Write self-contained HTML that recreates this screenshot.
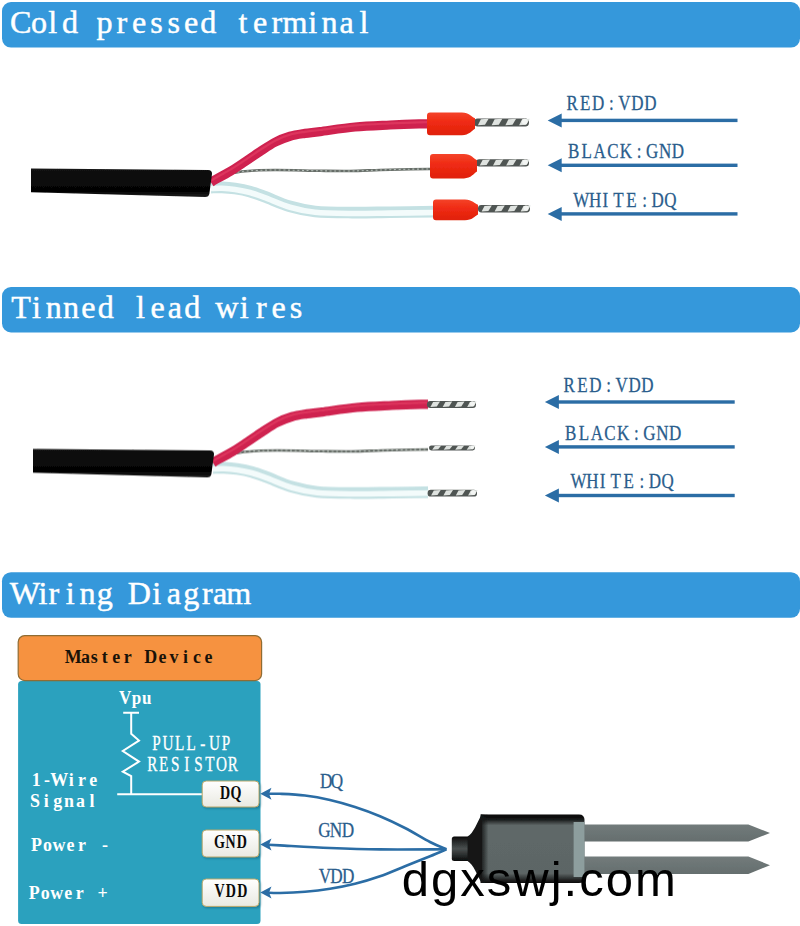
<!DOCTYPE html>
<html lang="en"><head><meta charset="utf-8"><title>Wiring</title>
<style>
html,body{margin:0;padding:0;background:#fff;}
body{width:800px;height:926px;overflow:hidden;}
svg{display:block;}
</style></head><body>
<svg width="800" height="926" viewBox="0 0 800 926">
<defs>
<filter id="soft" x="-5%" y="-20%" width="110%" height="140%"><feGaussianBlur stdDeviation="0.6"/></filter>
<filter id="soft2" x="-5%" y="-20%" width="110%" height="140%"><feGaussianBlur stdDeviation="0.35"/></filter>
<filter id="sh" x="-10%" y="-20%" width="125%" height="150%"><feGaussianBlur stdDeviation="1.2"/></filter>
<linearGradient id="cab" x1="0" y1="0" x2="0" y2="1"><stop offset="0" stop-color="#141414"/><stop offset="0.3" stop-color="#0a0a0a"/><stop offset="0.8" stop-color="#050505"/><stop offset="1" stop-color="#1c1c1c"/></linearGradient>
<linearGradient id="redw" x1="0" y1="0" x2="0" y2="1"><stop offset="0" stop-color="#e23a5a"/><stop offset="0.5" stop-color="#d3254a"/><stop offset="1" stop-color="#b81c40"/></linearGradient>
<linearGradient id="term" x1="0" y1="0" x2="0" y2="1"><stop offset="0" stop-color="#f4442a"/><stop offset="0.4" stop-color="#f02c14"/><stop offset="1" stop-color="#e0200c"/></linearGradient>
<linearGradient id="stub" x1="0" y1="0" x2="0" y2="1"><stop offset="0" stop-color="#0a0a0a"/><stop offset="0.12" stop-color="#1c1e1e"/><stop offset="0.5" stop-color="#4a5050"/><stop offset="0.88" stop-color="#1a1c1c"/><stop offset="1" stop-color="#080808"/></linearGradient>
<linearGradient id="body" x1="0" y1="0" x2="0" y2="1"><stop offset="0" stop-color="#050505"/><stop offset="0.07" stop-color="#141616"/><stop offset="0.16" stop-color="#5f6868"/><stop offset="0.86" stop-color="#5c6565"/><stop offset="0.94" stop-color="#2a2d2d"/><stop offset="1" stop-color="#0a0a0a"/></linearGradient>
<linearGradient id="tap" x1="0" y1="0" x2="1" y2="0"><stop offset="0" stop-color="#131515"/><stop offset="1" stop-color="#131515" stop-opacity="0"/></linearGradient>
<linearGradient id="btn" x1="0" y1="0" x2="0" y2="1"><stop offset="0" stop-color="#ffffff"/><stop offset="1" stop-color="#e9e9e1"/></linearGradient>
<linearGradient id="prong" x1="0" y1="0" x2="0" y2="1"><stop offset="0" stop-color="#727b7b"/><stop offset="1" stop-color="#656e6e"/></linearGradient>
</defs>
<rect width="800" height="926" fill="#ffffff"/>
<rect x="2" y="2.0" width="798" height="45.6" rx="9" ry="9" fill="#3598db"/>
<text transform="translate(9.40 33.40) scale(1.020 1)" x="11.06 29.12 42.40 59.36 76.32 93.28 110.25 127.21 144.17 161.13 178.09 195.05 212.01 228.97 245.93 262.19 280.10 297.27 313.77 330.74 347.70" y="0" text-anchor="middle" font-family='"Liberation Serif", serif' font-size="31.50" font-weight="normal" fill="#ffffff" stroke="#ffffff" stroke-width="0.45">Cold pressed terminal</text>
<rect x="2" y="287.0" width="798" height="45.4" rx="9" ry="9" fill="#3598db"/>
<text transform="translate(10.60 318.40) scale(1.020 1)" x="10.25 25.44 42.40 59.36 76.32 93.28 110.25 127.21 144.17 161.13 178.09 195.05 212.01 228.97 245.93 262.89 279.85" y="0" text-anchor="middle" font-family='"Liberation Serif", serif' font-size="31.50" font-weight="normal" fill="#ffffff" stroke="#ffffff" stroke-width="0.45">Tinned lead wires</text>
<rect x="2" y="572.2" width="798" height="45.6" rx="9" ry="9" fill="#3598db"/>
<text transform="translate(9.60 603.80) scale(1.020 1)" x="15.08 32.81 43.48 59.36 76.32 93.28 110.25 127.21 144.17 161.13 178.09 193.95 206.50 224.78" y="0" text-anchor="middle" font-family='"Liberation Serif", serif' font-size="31.50" font-weight="normal" fill="#ffffff" stroke="#ffffff" stroke-width="0.45">Wiring Diagram</text>
<g transform="translate(0.0 0.0)">
<g filter="url(#soft)">
<path d="M211.00,187.60 C212.83,187.57 218.00,187.23 222.00,187.40 C226.00,187.57 230.33,187.90 235.00,188.60 C239.67,189.30 245.00,190.23 250.00,191.60 C255.00,192.97 258.33,194.33 265.00,196.80 C271.67,199.27 281.67,203.97 290.00,206.40 C298.33,208.83 304.67,210.37 315.00,211.40 C325.33,212.43 339.50,212.47 352.00,212.60 C364.50,212.73 376.00,212.37 390.00,212.20 C404.00,212.03 428.33,211.70 436.00,211.60" fill="none" stroke="#c4e1e3" stroke-width="11.6"/>
<path transform="translate(0 0.9)" d="M211.00,187.60 C212.83,187.57 218.00,187.23 222.00,187.40 C226.00,187.57 230.33,187.90 235.00,188.60 C239.67,189.30 245.00,190.23 250.00,191.60 C255.00,192.97 258.33,194.33 265.00,196.80 C271.67,199.27 281.67,203.97 290.00,206.40 C298.33,208.83 304.67,210.37 315.00,211.40 C325.33,212.43 339.50,212.47 352.00,212.60 C364.50,212.73 376.00,212.37 390.00,212.20 C404.00,212.03 428.33,211.70 436.00,211.60" fill="none" stroke="#f3fbfb" stroke-width="5.6"/>
<path d="M224.00,174.50 C227.50,173.95 236.50,171.95 245.00,171.20 C253.50,170.45 262.50,170.07 275.00,170.00 C287.50,169.93 307.50,170.63 320.00,170.80 C332.50,170.97 340.00,171.13 350.00,171.00 C360.00,170.87 370.00,170.30 380.00,170.00 C390.00,169.70 401.17,169.37 410.00,169.20 C418.83,169.03 429.17,169.03 433.00,169.00" fill="none" stroke="#666d67" stroke-width="2.6"/>
<path d="M224.00,174.50 C227.50,173.95 236.50,171.95 245.00,171.20 C253.50,170.45 262.50,170.07 275.00,170.00 C287.50,169.93 307.50,170.63 320.00,170.80 C332.50,170.97 340.00,171.13 350.00,171.00 C360.00,170.87 370.00,170.30 380.00,170.00 C390.00,169.70 401.17,169.37 410.00,169.20 C418.83,169.03 429.17,169.03 433.00,169.00" fill="none" stroke="#b4beb8" stroke-width="1.1" stroke-dasharray="2 2.6"/>
<path d="M211.00,182.40 C211.67,181.97 211.83,181.62 215.00,179.80 C218.17,177.98 225.00,174.51 230.00,171.50 C235.00,168.49 240.00,165.07 245.00,161.75 C250.00,158.43 255.00,154.85 260.00,151.60 C265.00,148.35 270.00,144.81 275.00,142.25 C280.00,139.69 285.00,137.72 290.00,136.25 C295.00,134.78 300.00,134.18 305.00,133.40 C310.00,132.62 311.67,132.67 320.00,131.60 C328.33,130.53 343.33,128.10 355.00,127.00 C366.67,125.90 379.33,125.52 390.00,125.00 C400.67,124.48 412.00,124.10 419.00,123.90 C426.00,123.70 429.83,123.82 432.00,123.80" fill="none" stroke="#cf2350" stroke-width="9.2"/>
<path transform="translate(0 -1.6)" d="M211.00,182.40 C211.67,181.97 211.83,181.62 215.00,179.80 C218.17,177.98 225.00,174.51 230.00,171.50 C235.00,168.49 240.00,165.07 245.00,161.75 C250.00,158.43 255.00,154.85 260.00,151.60 C265.00,148.35 270.00,144.81 275.00,142.25 C280.00,139.69 285.00,137.72 290.00,136.25 C295.00,134.78 300.00,134.18 305.00,133.40 C310.00,132.62 311.67,132.67 320.00,131.60 C328.33,130.53 343.33,128.10 355.00,127.00 C366.67,125.90 379.33,125.52 390.00,125.00 C400.67,124.48 412.00,124.10 419.00,123.90 C426.00,123.70 429.83,123.82 432.00,123.80" fill="none" stroke="#e23c62" stroke-width="2.2" opacity="0.7"/>
<path d="M31,168.6 L208,169.9 Q212.4,170.2 212,174 L209.4,193.4 Q208.8,197 205,196.9 L31,192.3 Z" fill="url(#cab)"/>
</g>
<g filter="url(#soft)">
<rect x="474.0" y="118.4" width="55.0" height="8.1" rx="3.7" fill="#505552"/>
<path d="M477.9,125.3 L480.9,119.3 L488.6,118.8 L485.0,124.7 Z" fill="#dfe3e0"/>
<path d="M491.6,125.3 L494.6,119.3 L502.3,118.8 L498.8,124.7 Z" fill="#dfe3e0"/>
<path d="M505.4,125.3 L508.4,119.3 L516.1,118.8 L512.5,124.7 Z" fill="#dfe3e0"/>
<path d="M519.1,125.3 L522.1,119.3 L529.8,118.8 L526.2,124.7 Z" fill="#dfe3e0"/>
<circle cx="524.7" cy="121.6" r="2.9" fill="#f3f5f3"/>
</g>
<path filter="url(#soft2)" d="M427.0,115.4 Q427.0,112.4 430.0,112.4 L462.0,112.4 C469.0,112.4 472.0,117.0 475.0,118.3 L475.0,128.8 C472.0,130.6 469.0,135.2 462.0,135.2 L430.0,135.2 Q427.0,135.2 427.0,132.2 Z" fill="url(#term)"/>
<g filter="url(#soft)">
<rect x="476.0" y="159.3" width="53.0" height="7.2" rx="3.3" fill="#505552"/>
<path d="M479.7,165.5 L482.6,160.1 L490.0,159.6 L486.6,165.0 Z" fill="#dfe3e0"/>
<path d="M493.0,165.5 L495.9,160.1 L503.3,159.6 L499.8,165.0 Z" fill="#dfe3e0"/>
<path d="M506.2,165.5 L509.1,160.1 L516.5,159.6 L513.1,165.0 Z" fill="#dfe3e0"/>
<path d="M519.5,165.5 L522.4,160.1 L529.8,159.6 L526.4,165.0 Z" fill="#dfe3e0"/>
<circle cx="525.1" cy="162.2" r="2.6" fill="#f3f5f3"/>
</g>
<path filter="url(#soft2)" d="M430.0,157.0 Q430.0,154.0 433.0,154.0 L464.0,154.0 C471.0,154.0 474.0,158.9 477.0,160.3 L477.0,171.6 C474.0,173.5 471.0,178.4 464.0,178.4 L433.0,178.4 Q430.0,178.4 430.0,175.4 Z" fill="url(#term)"/>
<g filter="url(#soft)">
<rect x="478.0" y="205.1" width="52.0" height="7.4" rx="3.4" fill="#505552"/>
<path d="M481.6,211.4 L484.5,206.0 L491.8,205.5 L488.4,210.9 Z" fill="#dfe3e0"/>
<path d="M494.6,211.4 L497.5,206.0 L504.8,205.5 L501.4,210.9 Z" fill="#dfe3e0"/>
<path d="M507.6,211.4 L510.5,206.0 L517.8,205.5 L514.4,210.9 Z" fill="#dfe3e0"/>
<path d="M520.6,211.4 L523.5,206.0 L530.8,205.5 L527.4,210.9 Z" fill="#dfe3e0"/>
<circle cx="526.0" cy="208.1" r="2.6" fill="#f3f5f3"/>
</g>
<path filter="url(#soft2)" d="M433.0,202.4 Q433.0,199.4 436.0,199.4 L465.0,199.4 C472.0,199.4 475.0,203.6 478.0,204.8 L478.0,214.4 C475.0,216.0 472.0,220.2 465.0,220.2 L436.0,220.2 Q433.0,220.2 433.0,217.2 Z" fill="url(#term)"/>
</g>
<clipPath id="c2"><rect x="0" y="0" width="425.4" height="300"/></clipPath>
<g clip-path="url(#c2)" transform="translate(2 280.4)"><g transform="translate(0.0 0.0)">
<g filter="url(#soft)">
<path d="M211.00,187.60 C212.83,187.57 218.00,187.23 222.00,187.40 C226.00,187.57 230.33,187.90 235.00,188.60 C239.67,189.30 245.00,190.23 250.00,191.60 C255.00,192.97 258.33,194.33 265.00,196.80 C271.67,199.27 281.67,203.97 290.00,206.40 C298.33,208.83 304.67,210.37 315.00,211.40 C325.33,212.43 339.50,212.47 352.00,212.60 C364.50,212.73 376.00,212.37 390.00,212.20 C404.00,212.03 428.33,211.70 436.00,211.60" fill="none" stroke="#c4e1e3" stroke-width="11.6"/>
<path transform="translate(0 0.9)" d="M211.00,187.60 C212.83,187.57 218.00,187.23 222.00,187.40 C226.00,187.57 230.33,187.90 235.00,188.60 C239.67,189.30 245.00,190.23 250.00,191.60 C255.00,192.97 258.33,194.33 265.00,196.80 C271.67,199.27 281.67,203.97 290.00,206.40 C298.33,208.83 304.67,210.37 315.00,211.40 C325.33,212.43 339.50,212.47 352.00,212.60 C364.50,212.73 376.00,212.37 390.00,212.20 C404.00,212.03 428.33,211.70 436.00,211.60" fill="none" stroke="#f3fbfb" stroke-width="5.6"/>
<path d="M224.00,174.50 C227.50,173.95 236.50,171.95 245.00,171.20 C253.50,170.45 262.50,170.07 275.00,170.00 C287.50,169.93 307.50,170.63 320.00,170.80 C332.50,170.97 340.00,171.13 350.00,171.00 C360.00,170.87 370.00,170.30 380.00,170.00 C390.00,169.70 401.17,169.37 410.00,169.20 C418.83,169.03 429.17,169.03 433.00,169.00" fill="none" stroke="#666d67" stroke-width="2.6"/>
<path d="M224.00,174.50 C227.50,173.95 236.50,171.95 245.00,171.20 C253.50,170.45 262.50,170.07 275.00,170.00 C287.50,169.93 307.50,170.63 320.00,170.80 C332.50,170.97 340.00,171.13 350.00,171.00 C360.00,170.87 370.00,170.30 380.00,170.00 C390.00,169.70 401.17,169.37 410.00,169.20 C418.83,169.03 429.17,169.03 433.00,169.00" fill="none" stroke="#b4beb8" stroke-width="1.1" stroke-dasharray="2 2.6"/>
<path d="M211.00,182.40 C211.67,181.97 211.83,181.62 215.00,179.80 C218.17,177.98 225.00,174.51 230.00,171.50 C235.00,168.49 240.00,165.07 245.00,161.75 C250.00,158.43 255.00,154.85 260.00,151.60 C265.00,148.35 270.00,144.81 275.00,142.25 C280.00,139.69 285.00,137.72 290.00,136.25 C295.00,134.78 300.00,134.18 305.00,133.40 C310.00,132.62 311.67,132.67 320.00,131.60 C328.33,130.53 343.33,128.10 355.00,127.00 C366.67,125.90 379.33,125.52 390.00,125.00 C400.67,124.48 412.00,124.10 419.00,123.90 C426.00,123.70 429.83,123.82 432.00,123.80" fill="none" stroke="#cf2350" stroke-width="9.2"/>
<path transform="translate(0 -1.6)" d="M211.00,182.40 C211.67,181.97 211.83,181.62 215.00,179.80 C218.17,177.98 225.00,174.51 230.00,171.50 C235.00,168.49 240.00,165.07 245.00,161.75 C250.00,158.43 255.00,154.85 260.00,151.60 C265.00,148.35 270.00,144.81 275.00,142.25 C280.00,139.69 285.00,137.72 290.00,136.25 C295.00,134.78 300.00,134.18 305.00,133.40 C310.00,132.62 311.67,132.67 320.00,131.60 C328.33,130.53 343.33,128.10 355.00,127.00 C366.67,125.90 379.33,125.52 390.00,125.00 C400.67,124.48 412.00,124.10 419.00,123.90 C426.00,123.70 429.83,123.82 432.00,123.80" fill="none" stroke="#e23c62" stroke-width="2.2" opacity="0.7"/>
<path d="M31,168.6 L208,169.9 Q212.4,170.2 212,174 L209.4,193.4 Q208.8,197 205,196.9 L31,192.3 Z" fill="url(#cab)"/>
</g>
</g>
</g>
<g transform="translate(2 280.4)"><g filter="url(#soft)">
<rect x="425.0" y="120.7" width="49.0" height="6.9" rx="3.2" fill="#505552"/>
<path d="M428.4,126.6 L431.1,121.5 L438.0,121.0 L434.8,126.1 Z" fill="#dfe3e0"/>
<path d="M440.7,126.6 L443.4,121.5 L450.2,121.0 L447.1,126.1 Z" fill="#dfe3e0"/>
<path d="M452.9,126.6 L455.6,121.5 L462.5,121.0 L459.3,126.1 Z" fill="#dfe3e0"/>
<path d="M465.2,126.6 L467.9,121.5 L474.7,121.0 L471.6,126.1 Z" fill="#dfe3e0"/>
<circle cx="470.3" cy="123.4" r="2.5" fill="#f3f5f3"/>
</g>
<g filter="url(#soft)">
<rect x="427.0" y="165.0" width="46.0" height="5.0" rx="2.3" fill="#505552"/>
<path d="M430.2,169.3 L432.8,165.6 L439.2,165.2 L436.2,168.9 Z" fill="#dfe3e0"/>
<path d="M441.7,169.3 L444.2,165.6 L450.7,165.2 L447.7,168.9 Z" fill="#dfe3e0"/>
<path d="M453.2,169.3 L455.8,165.6 L462.2,165.2 L459.2,168.9 Z" fill="#dfe3e0"/>
<path d="M464.7,169.3 L467.2,165.6 L473.7,165.2 L470.7,168.9 Z" fill="#dfe3e0"/>
<circle cx="470.3" cy="167.0" r="1.8" fill="#f3f5f3"/>
</g>
<g filter="url(#soft)">
<rect x="425.6" y="209.3" width="49.4" height="6.9" rx="3.2" fill="#505552"/>
<path d="M429.1,215.2 L431.8,210.1 L438.7,209.6 L435.5,214.7 Z" fill="#dfe3e0"/>
<path d="M441.4,215.2 L444.1,210.1 L451.0,209.6 L447.8,214.7 Z" fill="#dfe3e0"/>
<path d="M453.8,215.2 L456.5,210.1 L463.4,209.6 L460.2,214.7 Z" fill="#dfe3e0"/>
<path d="M466.1,215.2 L468.8,210.1 L475.7,209.6 L472.5,214.7 Z" fill="#dfe3e0"/>
<circle cx="471.3" cy="212.0" r="2.5" fill="#f3f5f3"/>
</g>
</g>
<path d="M547.7,120.4 L561.7,113.4 L561.7,127.4 Z" fill="#2b6da5"/><rect x="559.7" y="118.70" width="177.8" height="3.4" fill="#2b6da5"/>
<text transform="translate(565.50 110.10) scale(0.780 1)" x="8.40 25.19 41.99 58.78 75.58 92.23 108.71" y="0" text-anchor="middle" font-family='"Liberation Serif", serif' font-size="21.80" font-weight="normal" fill="#2a5d8c" stroke="#2a5d8c" stroke-width="0.3">RED:VDD</text>
<path d="M547.7,165.3 L561.7,158.3 L561.7,172.3 Z" fill="#2b6da5"/><rect x="559.7" y="163.60" width="177.8" height="3.4" fill="#2b6da5"/>
<text transform="translate(567.00 158.20) scale(0.780 1)" x="8.40 25.19 41.99 58.78 75.58 92.37 109.17 125.82 142.30" y="0" text-anchor="middle" font-family='"Liberation Serif", serif' font-size="21.80" font-weight="normal" fill="#2a5d8c" stroke="#2a5d8c" stroke-width="0.3">BLACK:GND</text>
<path d="M547.7,213.9 L561.7,206.9 L561.7,220.9 Z" fill="#2b6da5"/><rect x="559.7" y="212.20" width="177.8" height="3.4" fill="#2b6da5"/>
<text transform="translate(572.60 206.80) scale(0.780 1)" x="11.08 29.05 41.99 58.78 75.58 92.37 109.02 125.50" y="0" text-anchor="middle" font-family='"Liberation Serif", serif' font-size="21.80" font-weight="normal" fill="#2a5d8c" stroke="#2a5d8c" stroke-width="0.3">WHITE:DQ</text>
<path d="M544.9,402.0 L558.9,395.0 L558.9,409.0 Z" fill="#2b6da5"/><rect x="556.9" y="400.30" width="177.8" height="3.4" fill="#2b6da5"/>
<text transform="translate(562.70 391.70) scale(0.780 1)" x="8.40 25.19 41.99 58.78 75.58 92.23 108.71" y="0" text-anchor="middle" font-family='"Liberation Serif", serif' font-size="21.80" font-weight="normal" fill="#2a5d8c" stroke="#2a5d8c" stroke-width="0.3">RED:VDD</text>
<path d="M544.9,446.9 L558.9,439.9 L558.9,453.9 Z" fill="#2b6da5"/><rect x="556.9" y="445.20" width="177.8" height="3.4" fill="#2b6da5"/>
<text transform="translate(564.20 439.80) scale(0.780 1)" x="8.40 25.19 41.99 58.78 75.58 92.37 109.17 125.82 142.30" y="0" text-anchor="middle" font-family='"Liberation Serif", serif' font-size="21.80" font-weight="normal" fill="#2a5d8c" stroke="#2a5d8c" stroke-width="0.3">BLACK:GND</text>
<path d="M544.9,495.5 L558.9,488.5 L558.9,502.5 Z" fill="#2b6da5"/><rect x="556.9" y="493.80" width="177.8" height="3.4" fill="#2b6da5"/>
<text transform="translate(569.80 488.40) scale(0.780 1)" x="11.08 29.05 41.99 58.78 75.58 92.37 109.02 125.50" y="0" text-anchor="middle" font-family='"Liberation Serif", serif' font-size="21.80" font-weight="normal" fill="#2a5d8c" stroke="#2a5d8c" stroke-width="0.3">WHITE:DQ</text>
<rect x="18.1" y="681" width="242.4" height="243" rx="3.5" fill="#2ba1be"/>
<rect x="18.2" y="635.6" width="243.4" height="45" rx="6.5" fill="#f69240" stroke="#8f6c33" stroke-width="1.2"/>
<text transform="translate(64.20 663.20) scale(0.920 1)" x="9.77 23.12 32.62 43.94 56.49 69.05 81.60 94.16 106.71 119.27 131.82 144.38 156.93" y="0" text-anchor="middle" font-family='"Liberation Serif", serif' font-size="19.50" font-weight="bold" fill="#1a1208" >Master Device</text>
<text transform="translate(118.40 704.00) scale(0.920 1)" x="7.44 19.62 30.71" y="0" text-anchor="middle" font-family='"Liberation Serif", serif' font-size="18.50" font-weight="bold" fill="#ffffff" >Vpu</text>
<text transform="translate(150.60 750.20) scale(0.760 1)" x="7.63 22.89 38.16 53.42 68.68 83.95 99.21" y="0" text-anchor="middle" font-family='"Liberation Serif", serif' font-size="20.00" font-weight="normal" fill="#ffffff" stroke="#ffffff" stroke-width="0.3">PULL-UP</text>
<text transform="translate(146.40 770.50) scale(0.760 1)" x="7.71 22.80 37.99 53.19 68.39 83.59 98.78 113.87" y="0" text-anchor="middle" font-family='"Liberation Serif", serif' font-size="20.00" font-weight="normal" fill="#ffffff" stroke="#ffffff" stroke-width="0.3">RESISTOR</text>
<text transform="translate(30.60 786.20) scale(0.920 1)" x="6.20 17.69 31.12 44.12 55.76 68.15" y="0" text-anchor="middle" font-family='"Liberation Serif", serif' font-size="19.50" font-weight="bold" fill="#ffffff" >1-Wire</text>
<text transform="translate(29.20 807.20) scale(0.920 1)" x="6.28 18.59 30.98 43.37 55.76 68.15" y="0" text-anchor="middle" font-family='"Liberation Serif", serif' font-size="19.50" font-weight="bold" fill="#ffffff" >Signal</text>
<text transform="translate(30.20 851.00) scale(0.920 1)" x="6.78 18.72 31.28 43.75 56.25 68.75 81.25" y="0" text-anchor="middle" font-family='"Liberation Serif", serif' font-size="19.50" font-weight="bold" fill="#ffffff" >Power -</text>
<text transform="translate(28.00 898.50) scale(0.920 1)" x="6.78 18.72 31.28 43.75 56.25 68.75 81.09" y="0" text-anchor="middle" font-family='"Liberation Serif", serif' font-size="19.50" font-weight="bold" fill="#ffffff" >Power +</text>
<path d="M123.2,712.8 L139,712.8 M131.2,712.8 L131.2,733.8 L139,740.6 L122.8,751 L139,761.6 L122.8,771.6 L131.2,776 L131.2,794.2 M117.2,794.2 L203,794.2" fill="none" stroke="#ffffff" stroke-width="2" stroke-linejoin="miter"/>
<rect x="203" y="782.5" width="57.6" height="26.0" rx="4" fill="#0b4a60" opacity="0.45" filter="url(#sh)"/>
<rect x="202.2" y="781.0" width="56.8" height="26.0" rx="4" fill="url(#btn)" stroke="#b9a86a" stroke-width="1"/>
<text transform="translate(219.20 798.50) scale(0.740 1)" x="7.93 22.67" y="0" text-anchor="middle" font-family='"Liberation Serif", serif' font-size="19.00" font-weight="bold" fill="#0a0a0a" >DQ</text>
<rect x="203" y="831.5" width="57.6" height="27.0" rx="4" fill="#0b4a60" opacity="0.45" filter="url(#sh)"/>
<rect x="202.2" y="830.0" width="56.8" height="27.0" rx="4" fill="url(#btn)" stroke="#b9a86a" stroke-width="1"/>
<text transform="translate(213.20 848.00) scale(0.740 1)" x="8.41 23.44 38.69" y="0" text-anchor="middle" font-family='"Liberation Serif", serif' font-size="19.00" font-weight="bold" fill="#0a0a0a" >GND</text>
<rect x="203" y="880.5" width="57.6" height="27.4" rx="4" fill="#0b4a60" opacity="0.45" filter="url(#sh)"/>
<rect x="202.2" y="879.0" width="56.8" height="27.4" rx="4" fill="url(#btn)" stroke="#b9a86a" stroke-width="1"/>
<text transform="translate(213.60 897.40) scale(0.740 1)" x="7.93 23.31 38.69" y="0" text-anchor="middle" font-family='"Liberation Serif", serif' font-size="19.00" font-weight="bold" fill="#0a0a0a" >VDD</text>
<g fill="none" stroke="#2b6da5" stroke-width="2.6">
<path d="M267.00,793.80 C269.17,793.80 273.67,793.52 280.00,793.80 C286.33,794.08 296.67,794.47 305.00,795.50 C313.33,796.53 321.67,798.08 330.00,800.00 C338.33,801.92 346.67,804.29 355.00,807.00 C363.33,809.71 371.67,812.75 380.00,816.25 C388.33,819.75 396.67,823.71 405.00,828.00 C413.33,832.29 423.10,838.45 430.00,842.00 C436.90,845.55 443.67,848.08 446.40,849.30"/>
<path d="M267.00,844.70 C269.17,844.82 269.50,844.85 280.00,845.40 C290.50,845.95 313.33,847.33 330.00,848.00 C346.67,848.67 360.60,849.18 380.00,849.40 C399.40,849.62 435.33,849.32 446.40,849.30"/>
<path d="M267.00,892.60 C269.17,892.67 273.67,893.14 280.00,893.00 C286.33,892.86 296.67,892.46 305.00,891.75 C313.33,891.04 321.67,890.08 330.00,888.75 C338.33,887.42 346.67,885.83 355.00,883.75 C363.33,881.67 371.67,879.17 380.00,876.25 C388.33,873.33 396.67,869.58 405.00,866.25 C413.33,862.92 423.10,859.08 430.00,856.25 C436.90,853.42 443.67,850.46 446.40,849.30"/>
</g>
<path d="M260.3,793.8 L271.5,787.8 L269,793.8 L271.5,799.8 Z" fill="#2b6da5"/>
<path d="M260.3,844.5 L271.5,838.5 L269,844.5 L271.5,850.5 Z" fill="#2b6da5"/>
<path d="M260.3,892.5 L271.5,886.5 L269,892.5 L271.5,898.5 Z" fill="#2b6da5"/>
<text transform="translate(319.20 787.80) scale(0.780 1)" x="8.89 22.91" y="0" text-anchor="middle" font-family='"Liberation Serif", serif' font-size="22.00" font-weight="normal" fill="#2a5d8c" stroke="#2a5d8c" stroke-width="0.3">DQ</text>
<text transform="translate(317.60 837.20) scale(0.780 1)" x="8.89 23.53 38.80" y="0" text-anchor="middle" font-family='"Liberation Serif", serif' font-size="22.00" font-weight="normal" fill="#2a5d8c" stroke="#2a5d8c" stroke-width="0.3">GND</text>
<text transform="translate(318.00 882.50) scale(0.780 1)" x="8.89 23.53 38.80" y="0" text-anchor="middle" font-family='"Liberation Serif", serif' font-size="22.00" font-weight="normal" fill="#2a5d8c" stroke="#2a5d8c" stroke-width="0.3">VDD</text>
<g filter="url(#soft2)">
<path d="M584,824.6 L748.4,824.6 L770,833 L748.4,841.6 L584,841.6 Z" fill="url(#prong)"/>
<path d="M584,856.6 L748.4,856.6 L770,865.2 L748.4,874 L584,874 Z" fill="url(#prong)"/>
<rect x="451.8" y="836.6" width="19" height="24.4" rx="2.5" fill="url(#stub)"/>
<path d="M481,814.4 L579,814.4 Q584.5,814.4 584.5,820 L584.5,877.5 Q584.5,883 579,883 L481,883 Z" fill="url(#body)"/>
<rect x="480.5" y="814.4" width="8" height="68.6" fill="url(#tap)"/>
<path d="M467.6,836.6 C473.5,833 477,823 481.6,814.4 L481.6,883 C477,874.5 473.5,864.6 467.6,861 Z" fill="#131515"/>
<rect x="573.6" y="822" width="10.9" height="55" fill="#8d9e9e"/>
</g>
<text x="401.8" y="896" font-family='"Liberation Sans", sans-serif' font-size="49" letter-spacing="2" fill="#000000">dgxswj.com</text>
</svg>
</body></html>
